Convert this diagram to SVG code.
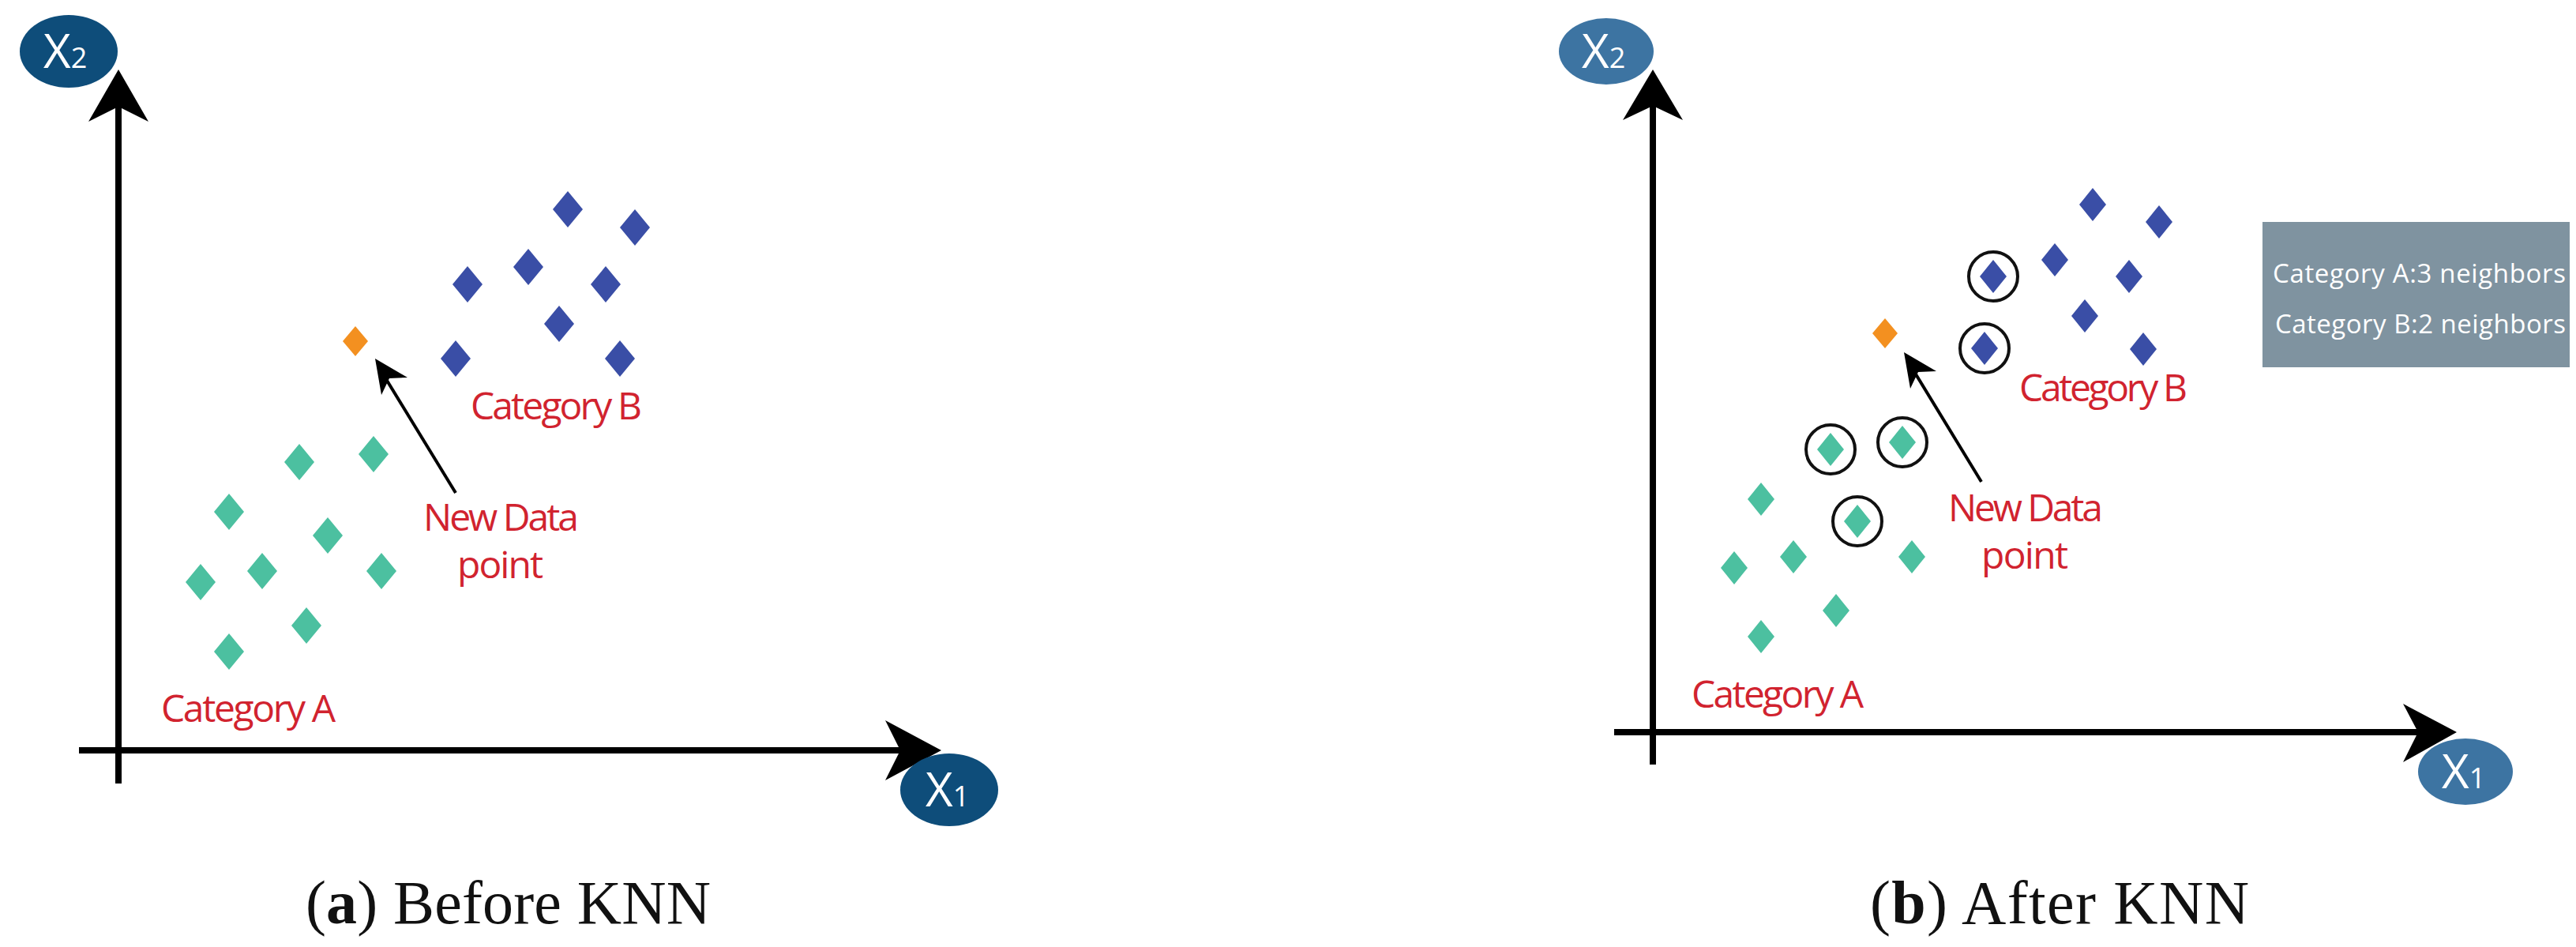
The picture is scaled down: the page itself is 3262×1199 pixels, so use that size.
<svg xmlns="http://www.w3.org/2000/svg" width="3262" height="1199" viewBox="0 0 3262 1199">
<style>
.ax{stroke:#000;stroke-width:8;fill:none}
.ah{fill:#000}
.lbl{font-family:"Open Sans","Liberation Sans",sans-serif;font-size:48px;fill:#d1232f}
.cap{font-family:"Liberation Serif",serif;font-size:78px;fill:#111}
.axt{font-family:"Open Sans","Liberation Sans",sans-serif;font-size:60px;fill:#fff}
.sub{font-size:36px}
.g{fill:#4cc0a0}.b{fill:#3a4ea6}.o{fill:#f39020}
.ring{fill:none;stroke:#111;stroke-width:4}
.box{font-family:"Open Sans","Liberation Sans",sans-serif;font-size:33px;fill:#fff}
</style>
<defs>
<path id="d" d="M0,-23 L19,0 L0,23 L-19,0Z"/>
<path id="ds" d="M0,-21 L17,0 L0,21 L-17,0Z"/>
<path id="dor" d="M0,-19 L16,0 L0,19 L-16,0Z"/>
</defs>
<rect width="3262" height="1199" fill="#fff"/>
<g id="panel-a">
<g id="axes-a">
<line class="ax" x1="150" y1="992" x2="150" y2="120"/>
<path class="ah" d="M150,88 L188,154 L150,135 L112,154Z"/>
<line class="ax" x1="100" y1="950" x2="1160" y2="950"/>
<path class="ah" d="M1192,950 L1121,912 L1140,950 L1121,988Z"/>
<g id="x2a"><ellipse cx="87" cy="65" rx="62" ry="46" fill="#0e4d7a"/><text class="axt" x="55" y="86">X<tspan class="sub">2</tspan></text></g>
<g id="x1a"><ellipse cx="1202" cy="1000" rx="62" ry="46" fill="#0e4d7a"/><text class="axt" x="1172" y="1021">X<tspan class="sub">1</tspan></text></g>
</g>
<g id="blue-a" class="b">
<use href="#d" x="719" y="265"/><use href="#d" x="804" y="288"/><use href="#d" x="669" y="338"/><use href="#d" x="592" y="360"/><use href="#d" x="767" y="360"/><use href="#d" x="708" y="410"/><use href="#d" x="577" y="454"/><use href="#d" x="785" y="454"/>
</g>
<g id="green-a" class="g">
<use href="#d" x="379" y="585"/><use href="#d" x="473" y="575"/><use href="#d" x="290" y="648"/><use href="#d" x="415" y="678"/><use href="#d" x="254" y="737"/><use href="#d" x="332" y="723"/><use href="#d" x="483" y="723"/><use href="#d" x="388" y="792"/><use href="#d" x="290" y="825"/>
</g>
<g id="new-a"><use href="#dor" class="o" x="450" y="432"/></g>
<g id="conn-a">
<line x1="577" y1="624" x2="484" y2="472" stroke="#000" stroke-width="4"/>
<path class="ah" d="M475,454 L516,478 L493,479 L483,500Z"/>
</g>
<text class="lbl" x="596" y="531" textLength="217">Category B</text>
<text class="lbl" x="536" y="672" textLength="197">New Data</text>
<text class="lbl" x="579" y="732" textLength="109">point</text>
<text class="lbl" x="204" y="914" textLength="221">Category A</text>
<text class="cap" x="387" y="1169" textLength="513">(<tspan font-weight="bold">a</tspan>) Before KNN</text>
</g>
<g id="panel-b">
<g id="axes-b">
<line class="ax" x1="2093" y1="968" x2="2093" y2="120"/>
<path class="ah" d="M2093,88 L2131,152 L2093,134 L2055,152Z"/>
<line class="ax" x1="2044" y1="927" x2="3080" y2="927"/>
<path class="ah" d="M3111,927 L3043,891 L3062,927 L3043,965Z"/>
<g id="x2b"><ellipse cx="2034" cy="65" rx="60" ry="42" fill="#3d74a2"/><text class="axt" x="2003" y="86">X<tspan class="sub">2</tspan></text></g>
<g id="x1b"><ellipse cx="3122" cy="977" rx="60" ry="42" fill="#3d74a2"/><text class="axt" x="3092" y="998">X<tspan class="sub">1</tspan></text></g>
</g>
<g id="legend"><rect x="2865" y="281" width="389" height="184" fill="#7f93a0"/>
<text class="box" x="2878" y="358" textLength="371">Category A:3 neighbors</text>
<text class="box" x="2881" y="422" textLength="368">Category B:2 neighbors</text></g>
<g id="blue-b" class="b">
<use href="#ds" x="2650" y="259"/><use href="#ds" x="2734" y="281"/><use href="#ds" x="2602" y="329"/><use href="#ds" x="2524" y="350"/><use href="#ds" x="2696" y="350"/><use href="#ds" x="2640" y="400"/><use href="#ds" x="2513" y="441"/><use href="#ds" x="2714" y="442"/>
</g>
<g id="green-b" class="g">
<use href="#ds" x="2318" y="569"/><use href="#ds" x="2409" y="560"/><use href="#ds" x="2230" y="632"/><use href="#ds" x="2352" y="660"/><use href="#ds" x="2196" y="719"/><use href="#ds" x="2271" y="705"/><use href="#ds" x="2421" y="705"/><use href="#ds" x="2325" y="773"/><use href="#ds" x="2230" y="806"/>
</g>
<g id="rings">
<circle class="ring" cx="2524" cy="350" r="31"/><circle class="ring" cx="2513" cy="441" r="31"/>
<circle class="ring" cx="2318" cy="569" r="31"/><circle class="ring" cx="2409" cy="560" r="31"/><circle class="ring" cx="2352" cy="660" r="31"/>
</g>
<g id="new-b"><use href="#dor" class="o" x="2387" y="422"/></g>
<g id="conn-b">
<line x1="2509" y1="610" x2="2420" y2="464" stroke="#000" stroke-width="4"/>
<path class="ah" d="M2411,446 L2452,470 L2429,471 L2419,492Z"/>
</g>
<text class="lbl" x="2557" y="508" textLength="213">Category B</text>
<text class="lbl" x="2467" y="660" textLength="196">New Data</text>
<text class="lbl" x="2509" y="720" textLength="110">point</text>
<text class="lbl" x="2142" y="896" textLength="218">Category A</text>
<text class="cap" x="2368" y="1169" textLength="480">(<tspan font-weight="bold">b</tspan>) After KNN</text>
</g>
</svg>
